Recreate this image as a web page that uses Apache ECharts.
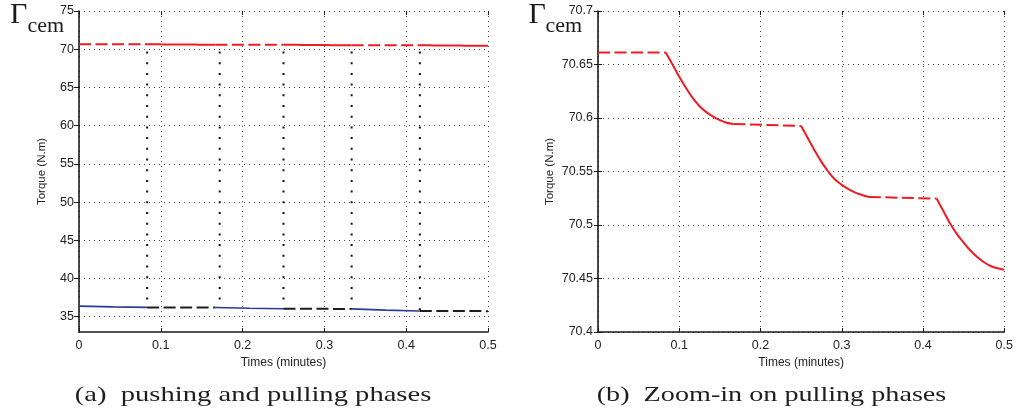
<!DOCTYPE html>
<html><head><meta charset="utf-8">
<script src="https://cdn.jsdelivr.net/npm/echarts@6/dist/echarts.min.js"></script>
<style>html,body{margin:0;padding:0;background:#fff}#c{width:1016px;height:417px}</style>
</head><body><div id="c"></div>
<script>
// ---------- data ----------
const xTickValues = [0, 0.1, 0.2, 0.3, 0.4, 0.5];
const leftYTicks = [35, 40, 45, 50, 55, 60, 65, 70, 75];
const rightYTicks = [70.4, 70.45, 70.5, 70.55, 70.6, 70.65, 70.7];

// red torque (pulling motor): dashed = stopped phases, solid = pulling phases
const redDash1  = [[0, 70.6612], [0.0833, 70.6612]];
const redSolid1 = [[0.0833, 70.6612], [0.0917, 70.650], [0.1, 70.6385], [0.1083, 70.628], [0.1167, 70.6185],
                   [0.125, 70.611], [0.1333, 70.6055], [0.1417, 70.6012], [0.15, 70.598], [0.1583, 70.5955], [0.1667, 70.5945]];
const redDash2  = [[0.1667, 70.5945], [0.25, 70.5925]];
const redSolid2 = [[0.25, 70.5925], [0.2583, 70.581], [0.2667, 70.5695], [0.275, 70.559], [0.2833, 70.550],
                   [0.2917, 70.5425], [0.3, 70.5375], [0.3083, 70.5335], [0.3167, 70.5302], [0.325, 70.528], [0.3333, 70.5262]];
const redDash3  = [[0.3333, 70.5262], [0.4167, 70.5247]];
const redSolid3 = [[0.4167, 70.5247], [0.425, 70.513], [0.4333, 70.5015], [0.4417, 70.4915], [0.45, 70.4835],
                   [0.4583, 70.4762], [0.4667, 70.4700], [0.475, 70.4652], [0.4833, 70.4617], [0.4917, 70.4595], [0.5, 70.4582]];

// blue torque (pushing motor) and black dashed stopped phases
const blueSolid1 = [[0, 36.38], [0.0417, 36.29], [0.0833, 36.22]];
const blackDash1 = [[0.0833, 36.22], [0.1667, 36.20]];
const blueSolid2 = [[0.1667, 36.20], [0.2083, 36.11], [0.25, 36.04]];
const blackDash2 = [[0.25, 36.04], [0.3333, 36.02]];
const blueSolid3 = [[0.3333, 36.02], [0.375, 35.86], [0.4167, 35.75]];
const blackDash3 = [[0.4167, 35.75], [0.5, 35.73]];

// vertical dotted phase markers
const markerTimes   = [0.0833, 0.172, 0.25, 0.3333, 0.4167];
const markerBottoms = [36.22, 36.20, 36.04, 36.02, 35.75];
const markerTop = 69.7;

// ---------- styling ----------
const SANS = '"Liberation Sans", Arial, Helvetica, sans-serif';
const SERIF = '"Liberation Serif", "Times New Roman", serif';
const RED = '#ec1c24', BLUE = '#2b3a98', BLACK = '#1e1e1e';
const DASH = [12, 4.5];
const gridLine = {show: true, lineStyle: {color: '#4a4a4a', type: [1, 4], width: 1}};
const axisColor = '#1a1a1a';
const labelStyle = {color: '#222', fontSize: 12.5, fontFamily: SANS};

function xAxesFor(gi) {
  return [
    {gridIndex: gi, type: 'value', min: 0, max: 0.5, interval: 0.1, position: 'bottom',
     axisLine: {show: true, onZero: false, lineStyle: {color: axisColor, width: 1.6}},
     axisTick: {show: true, inside: true, length: 4, lineStyle: {color: axisColor}},
     axisLabel: Object.assign({margin: 7}, labelStyle),
     splitLine: gridLine,
     name: 'Times (minutes)', nameLocation: 'middle', nameGap: 20,
     nameTextStyle: {color: '#222', fontSize: 12, fontFamily: SANS}},
    {gridIndex: gi, type: 'value', min: 0, max: 0.5, interval: 0.1, position: 'top',
     axisLine: {show: false}, axisTick: {show: true, inside: true, length: 4, lineStyle: {color: axisColor}},
     axisLabel: {show: false}, splitLine: {show: false}}
  ];
}
function yAxesFor(gi, extra, nameGap) {
  const main = Object.assign({gridIndex: gi, type: 'value', position: 'left',
     axisLine: {show: true, onZero: false, lineStyle: {color: axisColor, width: 1.6}},
     axisTick: {show: true, inside: true, length: 4, lineStyle: {color: axisColor}},
     axisLabel: Object.assign({margin: 5}, labelStyle),
     splitLine: gridLine,
     name: 'Torque (N.m)', nameLocation: 'middle', nameGap: nameGap,
     nameTextStyle: {color: '#222', fontSize: 11.5, fontFamily: SANS}}, extra);
  const side = Object.assign({gridIndex: gi, type: 'value', position: 'right',
     axisLine: {show: false}, axisTick: {show: true, inside: true, length: 4, lineStyle: {color: axisColor}},
     axisLabel: {show: false}, splitLine: {show: false}}, extra);
  if (extra.axisTick) { main.axisTick = Object.assign({}, main.axisTick, extra.axisTick);
    side.axisTick = Object.assign({show: true, inside: true, length: 4, lineStyle: {color: axisColor}}, extra.axisTick); }
  if (extra.axisLabel) { main.axisLabel = Object.assign({margin: 5}, labelStyle, extra.axisLabel); side.axisLabel = {show: false}; }
  return [main, side];
}

function seg(data, color, width, type, xi, yi, z, smooth) {
  return {type: 'line', data: data, xAxisIndex: xi, yAxisIndex: yi, symbol: 'none', showSymbol: false,
          silent: true, animation: false, z: z || 3, clip: true, smooth: smooth || false,
          lineStyle: {color: color, width: width, type: type, cap: 'butt'}};
}

const series = [];
// left chart: vertical markers
markerTimes.forEach(function (t, i) {
  series.push(seg([[t, markerTop], [t, markerBottoms[i]]], '#111', 2, [2, 8.7], 0, 0, 2));
});
const redParts = [[redDash1, DASH, false], [redSolid1, 'solid', 0.4], [redDash2, DASH, false],
                  [redSolid2, 'solid', 0.4], [redDash3, DASH, false], [redSolid3, 'solid', 0.4]];
// left chart: red and blue
redParts.forEach(function (p) { series.push(seg(p[0], RED, 2, p[1], 0, 0, 3, p[2])); });
[[blueSolid1, BLUE, 1.6, 'solid'], [blackDash1, BLACK, 2, DASH], [blueSolid2, BLUE, 1.6, 'solid'],
 [blackDash2, BLACK, 2, DASH], [blueSolid3, BLUE, 1.6, 'solid'], [blackDash3, BLACK, 2, DASH]]
  .forEach(function (p) { series.push(seg(p[0], p[1], p[2], p[3], 0, 0)); });
// right chart: red zoom
redParts.forEach(function (p) { series.push(seg(p[0], RED, 2, p[1], 2, 2, 3, p[2])); });

const leftY = yAxesFor(0, {min: 33, max: 75,
  axisTick: {customValues: leftYTicks}, axisLabel: {customValues: leftYTicks}}, 31);
const rightY = yAxesFor(1, {min: 70.4, max: 70.7, interval: 0.05}, 42);

function caption(text, cx, sx) {
  return {type: 'text', x: cx, y: 395, scaleX: sx, silent: true,
          style: {text: text, font: '22px ' + SERIF, fill: '#1e1e1e', align: 'center', verticalAlign: 'middle'}};
}
function gammaLabel(x0, x1) {
  return [
    {type: 'text', x: x0, y: 15.5, silent: true,
     style: {text: 'Γ', font: '30px ' + SERIF, fill: '#1a1a1a', align: 'left', verticalAlign: 'middle'}},
    {type: 'text', x: x1, y: 26.5, silent: true,
     style: {text: 'cem', font: '22px ' + SERIF, fill: '#1a1a1a', align: 'left', verticalAlign: 'middle'}}
  ];
}

const option = {
  backgroundColor: '#ffffff',
  animation: false,
  grid: [
    {left: 79, top: 11, width: 409, height: 321, containLabel: false},
    {left: 598, top: 11, width: 408, height: 321, containLabel: false}
  ],
  xAxis: xAxesFor(0).concat(xAxesFor(1)),
  yAxis: leftY.concat(rightY),
  series: series,
  graphic: [].concat(
    gammaLabel(10, 27.5), gammaLabel(528.5, 545.5),
    [caption('(a)  pushing and pulling phases', 253, 1.3),
     caption('(b)  Zoom-in on pulling phases', 771.5, 1.28)])
};
const chart = echarts.init(document.getElementById('c'), null, {renderer: 'canvas'});
chart.setOption(option);
</script>
</body></html>
